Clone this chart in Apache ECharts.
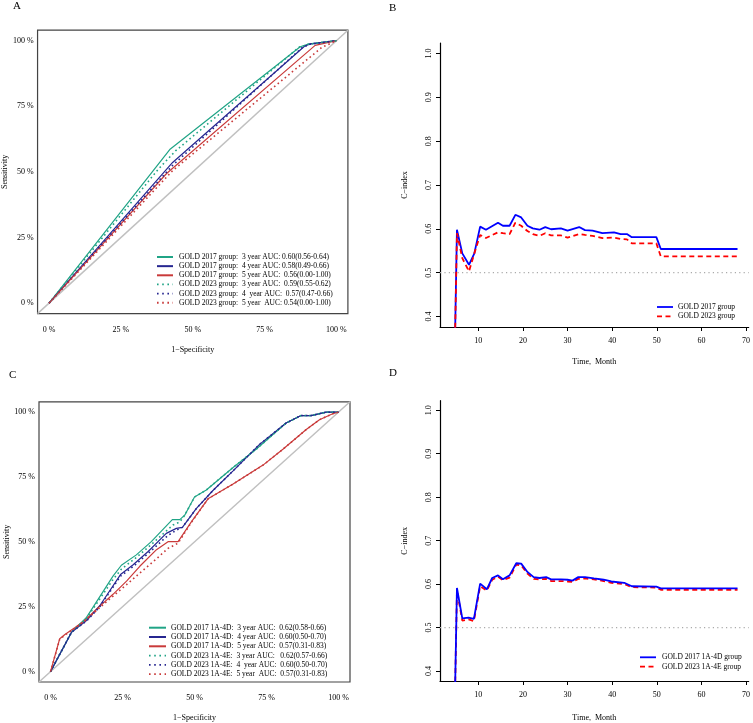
<!DOCTYPE html>
<html><head><meta charset="utf-8">
<script src="https://cdn.jsdelivr.net/npm/echarts@6/dist/echarts.min.js"></script>
<style>html,body{margin:0;padding:0;background:#fff}#c{width:753px;height:723px}</style>
</head><body><div id="c"></div>
<script>
// ---- data ----
const rocTicks = [0, 25, 50, 75, 100];
const cTicksY = [0.4, 0.5, 0.6, 0.7, 0.8, 0.9, 1.0];
const cTicksX = [10, 20, 30, 40, 50, 60, 70];

// Panel A ROC curves [1-specificity %, sensitivity %]
const A_2017_3y = [[0,0],[42,58.5],[87.4,97.7],[90.3,98.7],[100,100]];
const A_2017_4y = [[0,0],[43,53.6],[89,98],[91,98.8],[100,100]];
const A_2017_5y = [[0,0],[40.9,49.4],[92.6,98.2],[100,100]];
const A_2023_3y = [[0,0],[38,51],[44,58],[87,97.5],[90.3,98.7],[100,100]];
const A_2023_4y = [[0,0],[43,52.5],[88,97.3],[91,98.7],[100,100]];
const A_2023_5y = [[0,0],[43,50.5],[95,97.5],[100,100]];
const A_labels = [
  'GOLD 2017 group:  3 year AUC: 0.60(0.56-0.64)',
  'GOLD 2017 group:  4 year AUC: 0.58(0.49-0.66)',
  'GOLD 2017 group:  5 year AUC:  0.56(0.00-1.00)',
  'GOLD 2023 group:  3 year AUC:  0.59(0.55-0.62)',
  'GOLD 2023 group:  4  year AUC:  0.57(0.47-0.66)',
  'GOLD 2023 group:  5 year  AUC: 0.54(0.00-1.00)'
];

// Panel C ROC curves
const C_2017_3y = [[0,0],[7.3,15.2],[12.5,20.9],[21.7,36.8],[24.6,41],[29.8,45],[35,50.1],[42.3,58.6],[44.9,58.6],[46.6,60.3],[50,67.3],[54.1,70],[63.4,78.7],[71.4,85.7],[81.8,95.8],[87,98.7],[90.5,98.7],[95.7,100],[100,100]];
const C_2017_4y = [[0,0],[7.3,15.2],[12.5,19.7],[17.1,25.4],[24.3,37.4],[28.7,41.2],[33.9,46.3],[40.2,53.3],[43.7,55.2],[45.8,55.6],[50.6,62.8],[56.4,69.8],[63.4,77.4],[72.6,87.6],[81.8,95.8],[87,98.7],[90.5,98.7],[95.7,100],[100,100]];
const C_2017_5y = [[0,0],[3.2,12.7],[5,14.3],[8.4,16.9],[11.9,19.7],[16,24.1],[21.7,29.8],[26.4,34.9],[31,40.6],[36.8,47],[40.8,50.1],[44.3,50.1],[48.9,57.7],[54.7,66.6],[63.4,72.3],[73.8,79.6],[80.7,85.7],[88.8,93.3],[93.4,97.1],[98,99.4],[100,100]];
const C_2023_3y = [[0,0],[7.3,15.2],[12.5,20.5],[21.7,35.5],[24.6,39.5],[29.8,44],[35,49],[42.5,56.5],[44.9,57.7],[46.6,60.3],[50,67.3],[54.1,70],[63.4,78.7],[71.4,85.7],[81.8,95.8],[87,98.7],[90.5,98.7],[95.7,100],[100,100]];
const C_2023_4y = [[0,0],[7.3,15.2],[12.5,19.5],[17.1,25],[24.3,36.8],[28.7,40.5],[33.9,45.5],[36.8,48.5],[40.8,52.5],[43.7,54.5],[45.8,55.6],[50.6,62.8],[56.4,69.8],[63.4,77.4],[72.6,87.6],[81.8,95.8],[87,98.7],[90.5,98.7],[95.7,100],[100,100]];
const C_2023_5y = [[0,0],[3.2,12.5],[5,14.1],[8.4,16.7],[11.9,19.5],[20,27.5],[26.4,33.5],[31,38],[36.8,43.5],[40.8,47.5],[44.3,49.5],[48.9,57.5],[54.7,66.6],[63.4,72.3],[73.8,79.6],[80.7,85.7],[88.8,93.3],[93.4,97.1],[98,99.4],[100,100]];
const C_labels = [
  'GOLD 2017 1A-4D:  3 year AUC:  0.62(0.58-0.66)',
  'GOLD 2017 1A-4D:  4 year AUC:  0.60(0.50-0.70)',
  'GOLD 2017 1A-4D:  5 year AUC:  0.57(0.31-0.83)',
  'GOLD 2023 1A-4E:  3 year AUC:   0.62(0.57-0.66)',
  'GOLD 2023 1A-4E:  4  year AUC:  0.60(0.50-0.70)',
  'GOLD 2023 1A-4E:  5 year  AUC:  0.57(0.31-0.83)'
];

// Panel B time-dependent C-index
const B_time = [4.5,5.2,6.4,7.9,9.1,10.4,11.7,14.4,15.5,17,18.3,19.6,21,22.2,23.7,25,26.3,28.5,30,32.6,33.9,35.6,37.8,40.4,41.9,43.3,44.4,49.9,50.9,68.1];
const B_2017 = [0.2,0.598,0.544,0.518,0.544,0.605,0.598,0.614,0.607,0.607,0.632,0.626,0.607,0.601,0.598,0.604,0.599,0.601,0.596,0.604,0.597,0.596,0.590,0.592,0.588,0.588,0.581,0.581,0.554,0.554];
const B_2023 = [0.2,0.590,0.533,0.503,0.544,0.586,0.579,0.592,0.590,0.588,0.614,0.607,0.595,0.588,0.584,0.590,0.585,0.585,0.580,0.588,0.586,0.584,0.579,0.580,0.577,0.576,0.567,0.567,0.537,0.537];
const B_labels = ['GOLD 2017 group', 'GOLD 2023 group'];

// Panel D
const D_time = [4.5,5.2,6.4,7.8,9.0,10.4,11.9,13.1,14.4,15.5,17,18.5,19.6,21,22.4,23.7,25.2,26.3,28.5,30,31.1,32.4,33.9,35.9,38.1,39.8,42.7,44.4,49.9,50.9,68.1];
const D_2017 = [0.2,0.591,0.521,0.523,0.520,0.601,0.588,0.614,0.620,0.611,0.620,0.648,0.647,0.628,0.616,0.614,0.616,0.611,0.611,0.610,0.608,0.616,0.616,0.613,0.610,0.606,0.603,0.595,0.594,0.590,0.590];
const D_2023 = [0.2,0.585,0.516,0.519,0.515,0.595,0.585,0.610,0.617,0.609,0.615,0.645,0.643,0.624,0.612,0.611,0.612,0.607,0.607,0.606,0.605,0.612,0.613,0.611,0.607,0.603,0.600,0.593,0.592,0.587,0.587];
const D_labels = ['GOLD 2017 1A-4D group', 'GOLD 2023 1A-4E group'];

const refLine = 0.5;

// ---- styles ----
const FONT = 'Liberation Serif';
const TEAL = '#20a486', NAVY = '#262690', RED = '#c93a3a';
const BLUE = '#0000ff', BRED = '#ff0000';
const DOT = [1.6, 3];

const chart = echarts.init(document.getElementById('c'), null, {renderer: 'canvas'});
const zip = (xs, ys) => xs.map((x, i) => [x, ys[i]]);

function rocX(grid, name) {
  return {type:'value', gridIndex:grid, min:-4, max:104, name:name, nameLocation:'middle', nameGap:32,
    nameTextStyle:{fontFamily:FONT, fontSize:8, color:'#000'},
    axisLine:{show:false}, axisTick:{show:false}, splitLine:{show:false},
    axisLabel:{customValues:rocTicks, formatter:v=>v+' %', fontFamily:FONT, fontSize:8, color:'#000', margin:12}};
}
function rocY(grid) {
  return {type:'value', gridIndex:grid, min:-4, max:104, name:'Sensitivity', nameLocation:'middle', nameGap:28,
    nameTextStyle:{fontFamily:FONT, fontSize:8, color:'#000'},
    axisLine:{show:false}, axisTick:{show:false}, splitLine:{show:false},
    axisLabel:{customValues:rocTicks, formatter:v=>v+' %', fontFamily:FONT, fontSize:8, color:'#000', margin:4}};
}
function cX(grid, gap) {
  return {type:'value', gridIndex:grid, min:1.4, max:70.6, name:'Time,  Month', nameLocation:'middle', nameGap:gap,
    nameTextStyle:{fontFamily:FONT, fontSize:8, color:'#000'},
    axisLine:{show:true, lineStyle:{color:'#000', width:1.2}},
    axisTick:{show:true, customValues:cTicksX, length:4, lineStyle:{color:'#000'}},
    splitLine:{show:false},
    axisLabel:{customValues:cTicksX, fontFamily:FONT, fontSize:8, color:'#000', margin:10}};
}
function cY(grid, min, max) {
  return {type:'value', gridIndex:grid, min:min, max:max, name:'C\u2212index', nameLocation:'middle', nameGap:31,
    nameTextStyle:{fontFamily:FONT, fontSize:8, color:'#000'},
    axisLine:{show:true, lineStyle:{color:'#000', width:1.2}},
    axisTick:{show:true, customValues:cTicksY, length:4, lineStyle:{color:'#000'}},
    splitLine:{show:false},
    axisLabel:{customValues:cTicksY, formatter:v=>v.toFixed(1), rotate:90, fontFamily:FONT, fontSize:8, color:'#000', margin:7}};
}
function line(x, y, data, color, type, width, z) {
  return {type:'line', xAxisIndex:x, yAxisIndex:y, data:data, symbol:'none', silent:true, clip:true, animation:false,
    lineStyle:{color:color, width:width, type:type}, z:z||2};
}

const series = [];
// Panel A
series.push(line(0,0,[[-4,-4],[104,104]], '#c0c0c0', 'solid', 1.5, 1));
series.push(line(0,0,A_2017_3y, TEAL, 'solid', 1.2));
series.push(line(0,0,A_2017_4y, NAVY, 'solid', 1.2));
series.push(line(0,0,A_2017_5y, RED, 'solid', 1.2));
series.push(line(0,0,A_2023_3y, TEAL, DOT, 1.6));
series.push(line(0,0,A_2023_4y, NAVY, DOT, 1.6));
series.push(line(0,0,A_2023_5y, RED, DOT, 1.6));
// Panel C
series.push(line(2,2,[[-4,-4],[104,104]], '#c0c0c0', 'solid', 1.5, 1));
series.push(line(2,2,C_2017_3y, TEAL, 'solid', 1.2));
series.push(line(2,2,C_2017_4y, NAVY, 'solid', 1.2));
series.push(line(2,2,C_2017_5y, RED, 'solid', 1.2));
series.push(line(2,2,C_2023_3y, TEAL, DOT, 1.6));
series.push(line(2,2,C_2023_4y, NAVY, DOT, 1.6));
series.push(line(2,2,C_2023_5y, RED, DOT, 1.6));
// Panel B
series.push(line(1,1,[[1.4,refLine],[70.6,refLine]], '#aaaaaa', [1.2,3.2], 1.2, 1));
series.push(line(1,1,zip(B_time,B_2017), BLUE, 'solid', 1.8));
series.push(line(1,1,zip(B_time,B_2023), BRED, [5,3.5], 1.8));
// Panel D
series.push(line(3,3,[[1.4,refLine],[70.6,refLine]], '#aaaaaa', [1.2,3.2], 1.2, 1));
series.push(line(3,3,zip(D_time,D_2023), BRED, [5,3.5], 1.8));
series.push(line(3,3,zip(D_time,D_2017), BLUE, 'solid', 1.8, 3));

// legends as graphics
const graphic = [];
function rocLegend(x0, x1, xt, y0, dy, labels) {
  const cols = [TEAL, NAVY, RED, TEAL, NAVY, RED];
  labels.forEach((t, i) => {
    const y = y0 + i*dy;
    graphic.push({type:'line', shape:{x1:x0, y1:y, x2:x1, y2:y}, style:{stroke:cols[i], lineWidth: i<3?2:1.8, lineDash: i<3?null:[1.6,3.6]}});
    graphic.push({type:'text', x:xt, y:y, style:{text:t, fontFamily:FONT, fontSize:7.5, fill:'#000', verticalAlign:'middle'}});
  });
}
function cLegend(x0, x1, xt, y0, dy, labels) {
  const cols = [BLUE, BRED];
  labels.forEach((t, i) => {
    const y = y0 + i*dy;
    graphic.push({type:'line', shape:{x1:x0, y1:y, x2:x1, y2:y}, style:{stroke:cols[i], lineWidth:1.8, lineDash: i===0?null:[5,3.5]}});
    graphic.push({type:'text', x:xt, y:y, style:{text:t, fontFamily:FONT, fontSize:7.5, fill:'#000', verticalAlign:'middle'}});
  });
}
rocLegend(157, 173, 179, 257, 9.15, A_labels);
rocLegend(149, 166, 171, 627.7, 9.3, C_labels);
cLegend(657, 673, 678, 307, 9.3, B_labels);
cLegend(640, 656, 662, 657.3, 9.4, D_labels);
[['A',13,6],['B',389,8],['C',9,375],['D',389,373]].forEach(([t,x,y]) => {
  graphic.push({type:'text', x:x, y:y, style:{text:t, fontFamily:FONT, fontSize:11, fill:'#000', verticalAlign:'middle'}});
});

chart.setOption({
  backgroundColor:'#fff',
  animation:false,
  grid:[
    {left:36.2, top:30.2, width:311.7, height:283.4, show:true, borderColor:'#444', borderWidth:1.2, backgroundColor:'transparent'},
    {left:440, top:43, width:313, height:284},
    {left:39, top:401.8, width:311, height:283.7, show:true, borderColor:'#444', borderWidth:1.2, backgroundColor:'transparent'},
    {left:440, top:400.7, width:313, height:282.3}
  ],
  xAxis:[rocX(0,'1\u2212Specificity'), cX(1,31), rocX(2,'1\u2212Specificity'), cX(3,33)],
  yAxis:[rocY(0), cY(1,0.376,1.024), rocY(2), cY(3,0.377,1.022)],
  series:series,
  graphic:graphic
});
</script></body></html>
